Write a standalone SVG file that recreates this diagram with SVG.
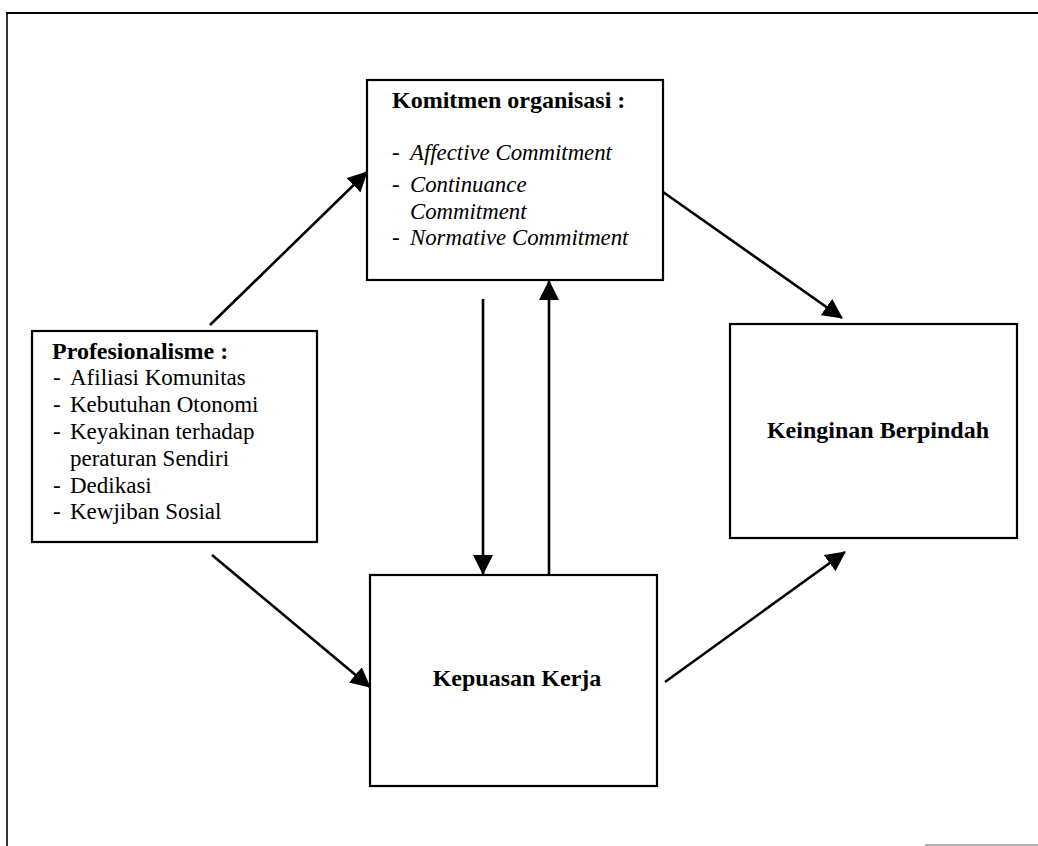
<svg xmlns="http://www.w3.org/2000/svg" width="1038" height="846" viewBox="0 0 1038 846">
<style>
.box{fill:#fff;stroke:#000;stroke-width:2.2}
.t{font-family:"Liberation Serif","Times New Roman",serif;fill:#000}
.b{font-weight:bold;font-size:24px}
.r{font-size:23px}
.i{font-size:22.8px;font-style:italic}
.c{stroke:#000;stroke-width:2.6;fill:none}
</style>
<defs>
<marker id="ah" markerUnits="userSpaceOnUse" markerWidth="20" markerHeight="20" refX="19" refY="10" orient="auto">
<path d="M0,0 L20,10 L0,20 z" fill="#000"/>
</marker>
</defs>
<g id="frame">
<line x1="6" y1="13" x2="1038" y2="13" stroke="#000" stroke-width="2"/>
<line x1="7" y1="12" x2="7" y2="846" stroke="#000" stroke-width="1.6"/>
<line x1="925" y1="845" x2="1038" y2="845" stroke="#999" stroke-width="1.5"/>
</g>
<g id="komitmen">
<rect class="box" x="367" y="80" width="296" height="200"/>
<text class="t b" x="392" y="108">Komitmen organisasi :</text>
<text class="t r" x="392" y="160">-</text>
<text class="t i" x="410" y="160">Affective Commitment</text>
<text class="t r" x="392" y="192">-</text>
<text class="t i" x="410" y="192">Continuance</text>
<text class="t i" x="410" y="219">Commitment</text>
<text class="t r" x="392" y="245">-</text>
<text class="t i" x="410" y="245">Normative Commitment</text>
</g>
<g id="profesionalisme">
<rect class="box" x="32" y="331" width="285" height="211"/>
<text class="t b" x="52" y="359">Profesionalisme :</text>
<text class="t r" x="53" y="385">-</text>
<text class="t r" x="70" y="385">Afiliasi Komunitas</text>
<text class="t r" x="53" y="412">-</text>
<text class="t r" x="70" y="412">Kebutuhan Otonomi</text>
<text class="t r" x="53" y="439">-</text>
<text class="t r" x="70" y="439">Keyakinan terhadap</text>
<text class="t r" x="70" y="466">peraturan Sendiri</text>
<text class="t r" x="53" y="493">-</text>
<text class="t r" x="70" y="493">Dedikasi</text>
<text class="t r" x="53" y="519">-</text>
<text class="t r" x="70" y="519">Kewjiban Sosial</text>
</g>
<g id="keinginan">
<rect class="box" x="730" y="324" width="287" height="214"/>
<text class="t b" x="878" y="438" text-anchor="middle">Keinginan Berpindah</text>
</g>
<g id="kepuasan">
<rect class="box" x="370" y="575" width="287" height="211"/>
<text class="t b" x="517" y="686" text-anchor="middle">Kepuasan Kerja</text>
</g>
<g id="connectors">
<line class="c" x1="210" y1="325" x2="367" y2="172" marker-end="url(#ah)"/>
<line class="c" x1="663" y1="192" x2="842" y2="318" marker-end="url(#ah)"/>
<line class="c" x1="212" y1="555" x2="370" y2="687" marker-end="url(#ah)"/>
<line class="c" x1="665" y1="682" x2="845" y2="552" marker-end="url(#ah)"/>
<line class="c" x1="483" y1="299" x2="483" y2="574" marker-end="url(#ah)"/>
<line class="c" x1="549" y1="575" x2="549" y2="281" marker-end="url(#ah)"/>
</g>
</svg>
